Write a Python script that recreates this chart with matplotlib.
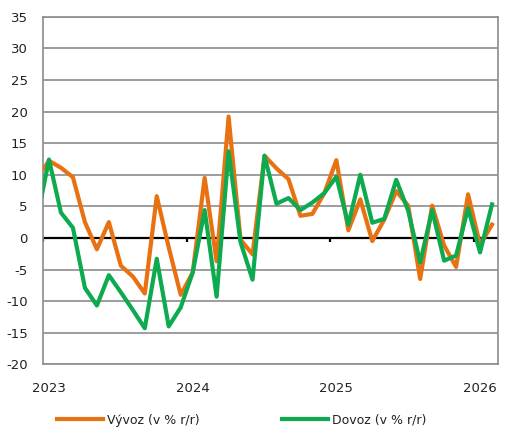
import numpy as np
import matplotlib
matplotlib.use('Agg')
import matplotlib.pyplot as plt

# měsíční data, prosinec 2022 .. únor 2026 (v % r/r)
mesice = np.arange(39) - 0.5  # 0 = 1. leden 2023, body uprostřed měsíce
vyvoz = [9.5, 12.2, 11.1, 9.6, 2.5, -1.8, 2.5, -4.4, -6.1, -8.8,
         6.6, -1.5, -9.0, -5.5, 9.5, -3.7, 19.2, -0.3, -2.6, 13.0,
         11.0, 9.3, 3.5, 3.8, 7.1, 12.3, 1.2, 6.1, -0.5, 2.9,
         7.4, 5.1, -6.5, 5.1, -1.2, -4.6, 6.9, -1.1, 2.1]
dovoz = [3.0, 12.4, 4.0, 1.6, -7.9, -10.7, -5.9, -8.6, -11.4, -14.3,
         -3.3, -14.0, -11.0, -5.5, 4.4, -9.3, 13.7, -0.7, -6.6, 13.0,
         5.4, 6.3, 4.4, 5.6, 7.1, 9.7, 2.1, 10.0, 2.4, 3.0,
         9.2, 4.3, -3.9, 4.4, -3.6, -2.8, 4.7, -2.3, 5.3]
roky = ['2023', '2024', '2025', '2026']
yticks = np.arange(-20, 36, 5)

plt.rcParams['font.family'] = 'DejaVu Sans'
fig = plt.figure(figsize=(5.17, 4.36), dpi=100)
ax = fig.add_axes([43 / 517, 1 - 364.3 / 436, 455 / 517, 347.6 / 436])

seda = '#8c8c8c'
for v in yticks:
    if v != 0:
        ax.axhline(v, color=seda, lw=1.2, zorder=1)
ax.axhline(0, color='black', lw=1.6, zorder=2)
ax.vlines([0, 12, 24, 36], -0.7, 0, color='black', lw=1.6, zorder=2)

ax.plot(mesice, vyvoz, color='#E87212', lw=3, label='Vývoz (v % r/r)', zorder=3)
ax.plot(mesice, dovoz, color='#0EAA4F', lw=3, label='Dovoz (v % r/r)', zorder=4)

ax.set_xlim(0, 38)
ax.set_ylim(-20, 35)
ax.set_yticks(yticks)
ax.set_yticklabels([str(v) for v in yticks], fontsize=9.5, color='#222222')
ax.set_xticks([0.5, 12.5, 24.5, 36.5])
ax.set_xticklabels(roky, fontsize=9.5, color='#222222')
ax.tick_params(axis='y', length=0, pad=11)
ax.tick_params(axis='x', length=0, pad=12.5)
for s in ax.spines.values():
    s.set_color(seda)
    s.set_linewidth(1.2)

leg = fig.legend(loc='center left', bbox_to_anchor=(57 / 517, 1 - 420 / 436),
                 ncol=2, frameon=False, fontsize=9, handlelength=3.7,
                 handletextpad=0.3, columnspacing=6.6, borderpad=0,
                 borderaxespad=0)
for t in leg.get_texts():
    t.set_color('#222222')

fig.savefig('out.png', dpi=100)
